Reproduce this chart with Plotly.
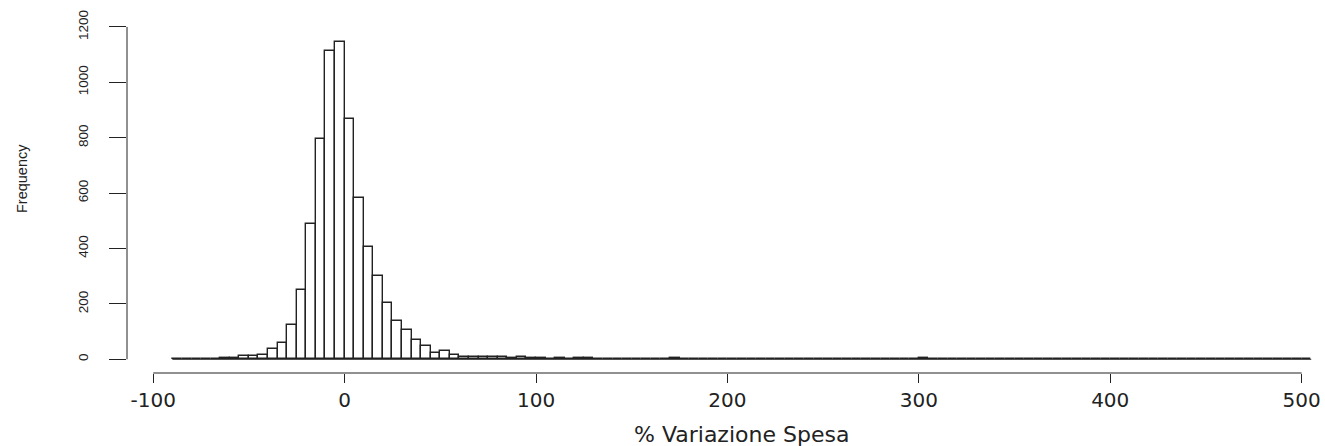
import plotly.graph_objects as go

# Histogram bins (width 5) starting at -90
bin_start = -90
bin_width = 5
counts = [
    2, 1, 1, 2, 2, 3,             # -90 .. -65
    5, 12, 12, 15, 36, 58, 123,   # -60 .. -30
    249, 489, 794, 1112, 1146,    # -25 .. -5
    868, 584, 406, 302, 203, 138, 106, 70, 48, 24, 29, 17, 9,   # 0 .. 60
    8, 7, 10, 9, 6, 8, 4, 3, 2, 4, 2, 3, 3,                     # 65 .. 125
    1, 2, 1, 2, 1, 2, 1, 1, 4, 1, 1, 0, 1, 1,                   # 130 .. 195
    2, 1, 1, 0, 1, 1, 1, 0, 1, 1, 1, 1, 0, 1, 0, 1, 0, 0, 1, 0, # 200 .. 295
    3, 1, 0, 0, 1, 0, 1, 0, 0, 1, 1, 0, 0, 1, 1, 0, 0, 1, 0, 0, # 300 .. 395
    1, 0, 0, 1, 0, 0, 1, 0, 0, 0, 1, 0, 0, 0, 1, 0, 0, 0, 0, 1, # 400 .. 495
    1,                                                          # 500
]
bin_left = [bin_start + i * bin_width for i in range(len(counts))]
bin_right_end = bin_left[-1] + bin_width

x_ticks = [-100, 0, 100, 200, 300, 400, 500]
x_tick_labels = ["-100", "0", "100", "200", "300", "400", "500"]
y_ticks = [0, 200, 400, 600, 800, 1000, 1200]
y_tick_labels = ["0", "200", "400", "600", "800", "1000", "1200"]

x_title = "% Variazione Spesa"
y_title = "Frequency"

ink = "#222222"

fig = go.Figure()
fig.add_trace(go.Scatter(
    x=[bin_left[0], bin_right_end], y=[0, 0], mode="lines",
    line=dict(color=ink, width=1), hoverinfo="skip", showlegend=False,
))
fig.add_trace(go.Bar(
    x=bin_left, y=counts, width=bin_width, offset=0,
    marker=dict(color="white", line=dict(color=ink, width=1.4)),
    showlegend=False,
))

# R-style axis lines spanning tick range only
fig.add_shape(type="line", xref="x", yref="paper",
              x0=x_ticks[0], x1=x_ticks[-1], y0=0, y1=0,
              line=dict(color=ink, width=1))
fig.add_shape(type="line", xref="paper", yref="y",
              x0=0, x1=0, y0=y_ticks[0], y1=y_ticks[-1],
              line=dict(color=ink, width=1))

fig.add_annotation(text=x_title, xref="x", yref="paper",
                   x=207.5, y=-0.173, showarrow=False,
                   xanchor="center", yanchor="middle",
                   font=dict(family="DejaVu Sans", size=22, color=ink))
fig.add_annotation(text=y_title, xref="paper", yref="paper",
                   x=-0.0876, y=0.5496, showarrow=False, textangle=-90,
                   xanchor="center", yanchor="middle",
                   font=dict(family="Liberation Sans", size=14.5, color=ink))

fig.update_layout(
    width=1325, height=446,
    margin=dict(l=127, r=0, t=20, b=73),
    plot_bgcolor="white", paper_bgcolor="white",
    bargap=0,
    xaxis=dict(range=[-113.7, 512.2], tickvals=x_ticks, ticktext=x_tick_labels,
               ticks="outside", ticklen=9, tickcolor=ink, tickwidth=1,
               showgrid=False, zeroline=False, showline=False,
               tickfont=dict(family="DejaVu Sans", size=20, color=ink)),
    yaxis=dict(range=[-49.5, 1225], tickvals=y_ticks, ticktext=y_tick_labels,
               ticks="outside", ticklen=17, tickcolor=ink, tickwidth=1, tickangle=-90,
               ticklabelstandoff=16,
               showgrid=False, zeroline=False, showline=False,
               tickfont=dict(family="Liberation Sans", size=13.5, color=ink)),
)

fig.write_html("out.html")
